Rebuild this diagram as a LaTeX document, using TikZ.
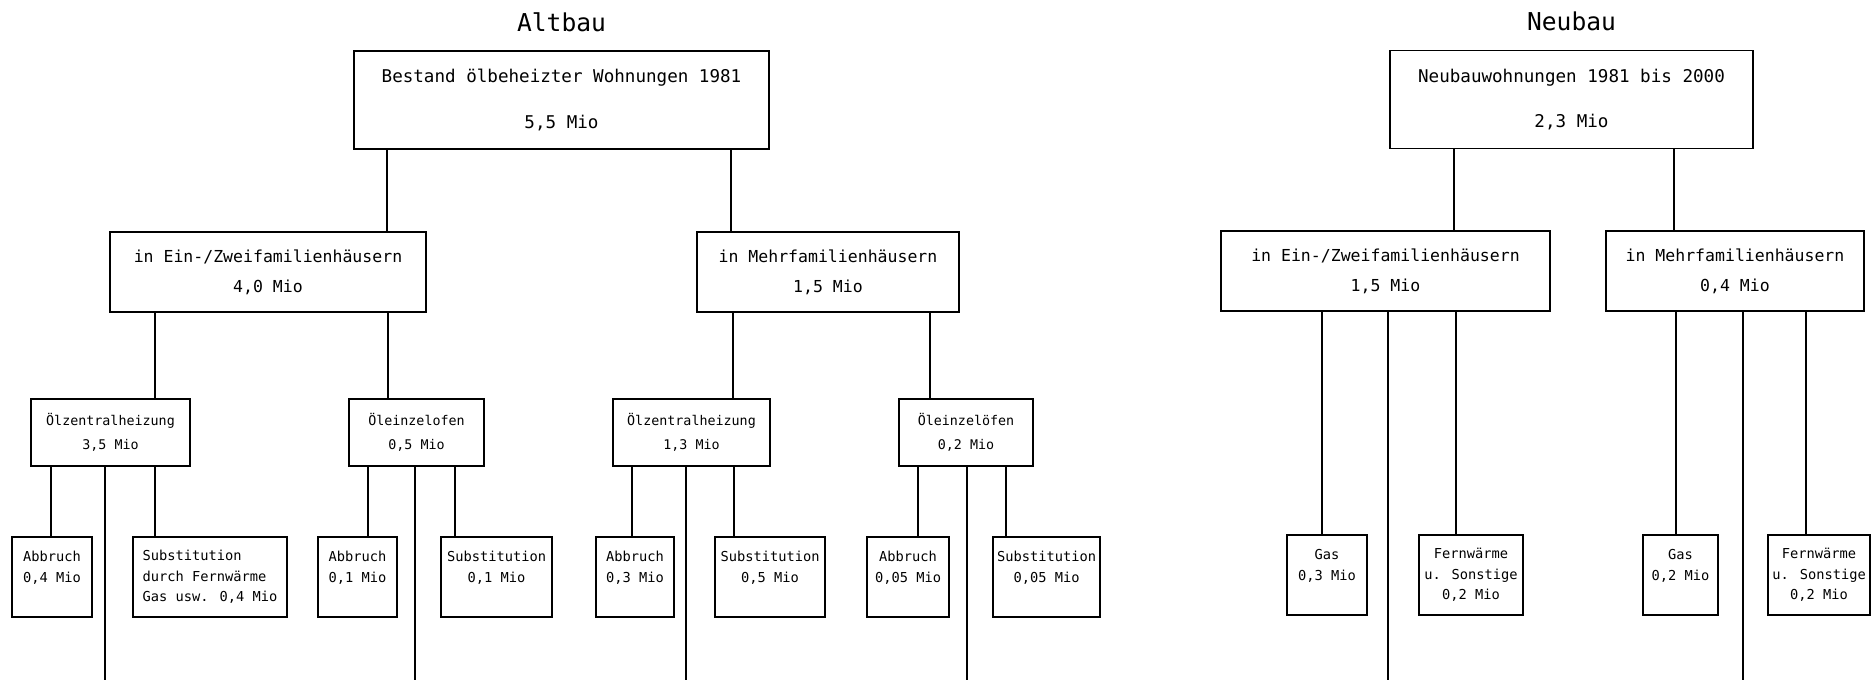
\documentclass[tikz,border=0pt]{standalone}
\usepackage{fontspec}
\setmainfont{DejaVu Sans Mono}
\usetikzlibrary{positioning}

\begin{document}
\begin{tikzpicture}[
  x=0.02cm, y=-0.02cm,
  box/.style={draw, line width=1.1pt, inner sep=0pt, align=center},
  topbox/.style={box, minimum height=1.96cm, font=\fontsize{10}{26}\selectfont},
  groupbox/.style={box, minimum height=1.6cm, font=\fontsize{9.4}{17}\selectfont},
  heatbox/.style={box, minimum height=1.34cm, font=\fontsize{7.6}{13.6}\selectfont},
  leafbox/.style={box, minimum height=1.6cm, font=\fontsize{7.8}{11.6}\selectfont},
  headline/.style={inner sep=0pt, font=\fontsize{14}{16}\selectfont},
  link/.style={line width=0.8pt}
]
\useasboundingbox (0,0) rectangle (1874,686);
\coordinate (floor) at (0,680);

% Altbau
\node[topbox, minimum width=8.3cm] (alt) at (561.5,100) {Bestand ölbeheizter Wohnungen 1981\\5,5 Mio};
\node[headline, above=0.36cm of alt] (alttitle) {Altbau};

\node[groupbox, minimum width=6.32cm] (ein1) at (268,272) {in Ein-/Zweifamilienhäusern\\4,0 Mio};
\node[groupbox, minimum width=5.24cm] (mehr1) at (828,272) {in Mehrfamilienhäusern\\1,5 Mio};

\node[heatbox, minimum width=3.18cm] (oz1) at (110.5,432.5) {Ölzentralheizung\\3,5 Mio};
\node[heatbox, minimum width=2.7cm] (oe1) at (416.5,432.5) {Öleinzelofen\\0,5 Mio};
\node[heatbox, minimum width=3.14cm] (oz2) at (691.5,432.5) {Ölzentralheizung\\1,3 Mio};
\node[heatbox, minimum width=2.68cm] (oe2) at (966,432.5) {Öleinzelöfen\\0,2 Mio};

% leaf texts hang from the top, two-line ones get an empty third line
\node[leafbox, minimum width=1.6cm, align=left] (ab1) at (52,577) {Abbruch\\0,4 Mio\\\mbox{}};
\node[leafbox, minimum width=3.08cm, align=left] (su1) at (210,577) {Substitution\\durch Fernwärme\\Gas usw. 0,4 Mio};
\node[leafbox, minimum width=1.58cm] (ab2) at (357.5,577) {Abbruch\\0,1 Mio\\\mbox{}};
\node[leafbox, minimum width=2.22cm] (su2) at (496.5,577) {Substitution\\0,1 Mio\\\mbox{}};
\node[leafbox, minimum width=1.56cm] (ab3) at (635,577) {Abbruch\\0,3 Mio\\\mbox{}};
\node[leafbox, minimum width=2.2cm] (su3) at (770,577) {Substitution\\0,5 Mio\\\mbox{}};
\node[leafbox, minimum width=1.64cm] (ab4) at (908,577) {Abbruch\\0,05 Mio\\\mbox{}};
\node[leafbox, minimum width=2.14cm] (su4) at (1046.5,577) {Substitution\\0,05 Mio\\\mbox{}};

% Neubau
\node[topbox, minimum width=7.26cm] (neu) at (1571.5,99.5) {Neubauwohnungen 1981 bis 2000\\2,3 Mio};
\node[headline, above=0.36cm of neu] (neutitle) {Neubau};

\node[groupbox, minimum width=6.58cm] (ein2) at (1385.5,271) {in Ein-/Zweifamilienhäusern\\1,5 Mio};
\node[groupbox, minimum width=5.16cm] (mehr2) at (1735,271) {in Mehrfamilienhäusern\\0,4 Mio};

\node[leafbox, minimum width=1.6cm] (gas1) at (1327,575) {Gas\\0,3 Mio\\\mbox{}};
\node[leafbox, minimum width=2.08cm] (fw1) at (1471,575) {Fernwärme\\u. Sonstige\\0,2 Mio};
\node[leafbox, minimum width=1.5cm] (gas2) at (1680.5,575) {Gas\\0,2 Mio\\\mbox{}};
\node[leafbox, minimum width=2.04cm] (fw2) at (1819,575) {Fernwärme\\u. Sonstige\\0,2 Mio};

% Connectors Altbau
\draw[link] (387,0 |- alt.south) -- (387,0 |- ein1.north)
            (731,0 |- alt.south) -- (731,0 |- mehr1.north);
\draw[link] (155,0 |- ein1.south) -- (155,0 |- oz1.north)
            (388,0 |- ein1.south) -- (388,0 |- oe1.north);
\draw[link] (733,0 |- mehr1.south) -- (733,0 |- oz2.north)
            (930,0 |- mehr1.south) -- (930,0 |- oe2.north);
\draw[link] (51,0 |- oz1.south) -- (51,0 |- ab1.north)
            (105,0 |- oz1.south) -- (105,0 |- floor)
            (155,0 |- oz1.south) -- (155,0 |- su1.north);
\draw[link] (368,0 |- oe1.south) -- (368,0 |- ab2.north)
            (415,0 |- oe1.south) -- (415,0 |- floor)
            (455,0 |- oe1.south) -- (455,0 |- su2.north);
\draw[link] (632,0 |- oz2.south) -- (632,0 |- ab3.north)
            (686,0 |- oz2.south) -- (686,0 |- floor)
            (734,0 |- oz2.south) -- (734,0 |- su3.north);
\draw[link] (918,0 |- oe2.south) -- (918,0 |- ab4.north)
            (967,0 |- oe2.south) -- (967,0 |- floor)
            (1006,0 |- oe2.south) -- (1006,0 |- su4.north);

% Connectors Neubau
\draw[link] (1454,0 |- neu.south) -- (1454,0 |- ein2.north)
            (1674,0 |- neu.south) -- (1674,0 |- mehr2.north);
\draw[link] (1322,0 |- ein2.south) -- (1322,0 |- gas1.north)
            (1388,0 |- ein2.south) -- (1388,0 |- floor)
            (1456,0 |- ein2.south) -- (1456,0 |- fw1.north);
\draw[link] (1676,0 |- mehr2.south) -- (1676,0 |- gas2.north)
            (1743,0 |- mehr2.south) -- (1743,0 |- floor)
            (1806,0 |- mehr2.south) -- (1806,0 |- fw2.north);

\end{tikzpicture}
\end{document}
